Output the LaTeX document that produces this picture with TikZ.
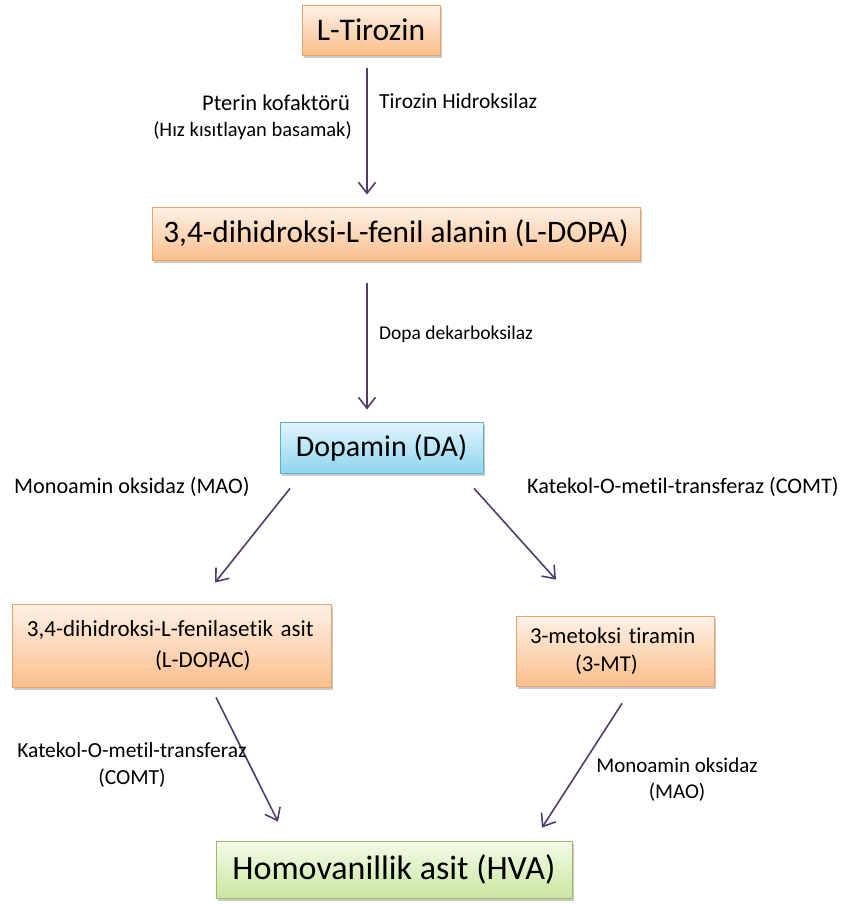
\documentclass[tikz,border=0pt]{standalone}
\usepackage{fontspec}
\setmainfont{Carlito}[Ligatures={NoCommon}]
\usetikzlibrary{arrows.meta,shadows,calc}
\definecolor{arrcol}{HTML}{4F3E6C}
\definecolor{orbord}{HTML}{E9A46A}
\definecolor{ortop}{HTML}{FEF1E6}
\definecolor{orbot}{HTML}{FABF8C}
\definecolor{blbord}{HTML}{5AAFCB}
\definecolor{bltop}{HTML}{E2F5FC}
\definecolor{blbot}{HTML}{8ED6F0}
\definecolor{grbord}{HTML}{9CBA62}
\definecolor{grtop}{HTML}{F4FBE8}
\definecolor{grbot}{HTML}{C9E6A1}
\tikzset{
  box/.style={draw, line width=0.8pt, inner sep=0pt, text=black,
    drop shadow={shadow xshift=2pt, shadow yshift=-3pt, opacity=0.35, fill=black!60}},
  orbox/.style={box, draw=orbord, top color=ortop, bottom color=orbot},
  blbox/.style={box, draw=blbord, top color=bltop, bottom color=blbot},
  grbox/.style={box, draw=grbord, top color=grtop, bottom color=grbot},
  arr/.style={draw=arrcol, line width=1.6pt, -{Straight Barb[length=11pt,width=17pt,line width=1.6pt]}},
  lbl/.style={inner sep=0pt, text=black},
}
\newcommand{\fs}[1]{\fontsize{#1}{#1}\selectfont}
\begin{document}
\begin{tikzpicture}[x=1pt,y=-1pt]
\useasboundingbox (0,0) rectangle (853,904);
% boxes
\node[orbox, minimum width=138pt, minimum height=50pt, font=\fontsize{31.5}{36}\selectfont] (tyr) at (371,30) {L-Tirozin};
\node[orbox, minimum width=488pt, minimum height=53pt, font=\fontsize{31.3}{36}\selectfont] (dopa) at (396,233.5) {3,4-dihidroksi-L-fenil alanin (L-DOPA)};
\node[blbox, minimum width=203pt, minimum height=51pt, font=\fontsize{30}{36}\selectfont] (da) at (381.5,447.5) {Dopamin (DA)};
\node[orbox, minimum width=319pt, minimum height=83pt, inner xsep=15pt, text width=289pt, font=\fontsize{23}{31}\selectfont, align=left] (dopac) at (171.5,645.5) {3,4-dihidroksi-L-fenilasetik asit\\\hspace*{128pt}(L-DOPAC)};
\node[orbox, minimum width=198pt, minimum height=70pt, inner xsep=14pt, text width=170pt, font=\fontsize{22.7}{28}\selectfont, align=left] (mt) at (615,651) {3-metoksi tiramin\\\hspace*{45pt}(3-MT)};
\node[grbox, minimum width=356pt, minimum height=57pt, font=\fontsize{34}{40}\selectfont] (hva) at (394,869.5) {Homovanillik asit (HVA)};
% arrows
\draw[arr] ([shift={(-4pt,-13pt)}]tyr.south) -- ([shift={(-29pt,12pt)}]dopa.north);
\draw[arr] ([shift={(-29pt,-23pt)}]dopa.south) -- ([shift={(-14.5pt,12pt)}]da.north);
\draw[arr] ([shift={(-91.5pt,-15pt)}]da.south) -- ([shift={(43.5pt,21pt)}]dopac.north);
\draw[arr] ([shift={(92.5pt,-15pt)}]da.south) -- ([shift={(-59pt,36pt)}]mt.north);
\draw[arr] ([shift={(44.5pt,-10pt)}]dopac.south) -- ([shift={(-116pt,19pt)}]hva.north);
\draw[arr] ([shift={(7pt,-17pt)}]mt.south) -- ([shift={(148pt,13pt)}]hva.north);
% labels
\node[lbl, anchor=east, font=\fs{22.5}] (pterin) at (350,103) {Pterin kofaktörü};
\node[lbl, anchor=east, font=\fs{20.5}] (hiz) at (352,131) {(Hız kısıtlayan basamak)};
\node[lbl, anchor=west, font=\fs{21.5}] (th) at (379,101) {Tirozin Hidroksilaz};
\node[lbl, anchor=west, font=\fs{19.5}] (dd) at (379,334) {Dopa dekarboksilaz};
\node[lbl, anchor=west, font=\fs{22.2}] (mao1) at (14,487) {Monoamin oksidaz (MAO)};
\node[lbl, anchor=west, font=\fs{22.2}] (comt1) at (527,487) {Katekol-O-metil-transferaz (COMT)};
\node[lbl, align=center, font=\fontsize{21.5}{27}\selectfont] (comt2) at (132,765) {Katekol-O-metil-transferaz\\(COMT)};
\node[lbl, align=center, font=\fontsize{21}{26}\selectfont] (mao2) at (677,780) {Monoamin oksidaz\\(MAO)};
\end{tikzpicture}
\end{document}
